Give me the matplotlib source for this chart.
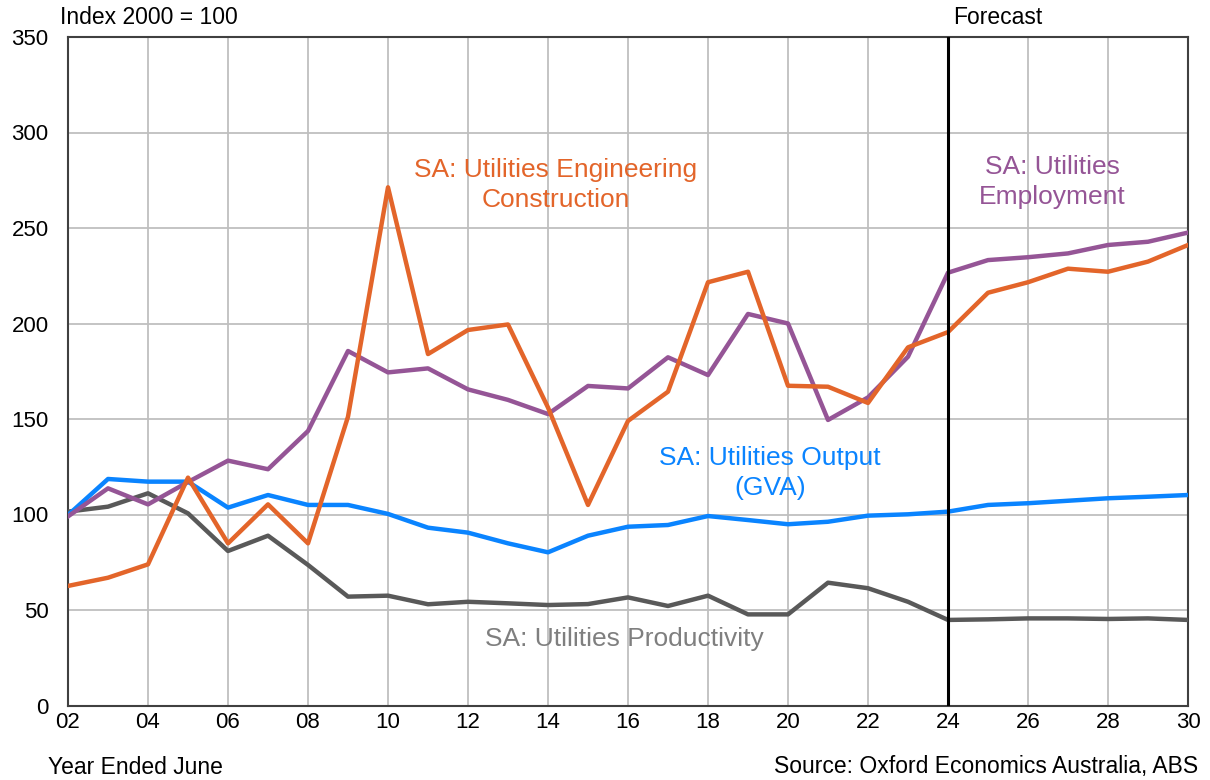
import matplotlib
matplotlib.use("Agg")
import matplotlib.pyplot as plt

plt.rcParams['font.family'] = ['Liberation Sans', 'DejaVu Sans']

years = list(range(2002, 2031))
eng_construction = [62.6, 66.9, 73.9, 119.3, 84.9, 105.3, 84.9, 151.2, 271.3, 184.0,
                    196.6, 199.5, 156.0, 105.0, 149.0, 164.3, 221.6, 227.1, 167.4, 166.9,
                    158.4, 187.5, 195.5, 216.1, 221.6, 228.7, 227.1, 232.4, 241.1]
employment = [99.0, 113.7, 105.3, 117.0, 128.2, 123.7, 143.7, 185.6, 174.4, 176.5,
              165.5, 160.0, 152.6, 167.3, 166.0, 182.3, 173.0, 205.0, 200.0, 149.5,
              161.3, 182.6, 226.6, 233.2, 234.7, 236.7, 241.1, 242.8, 247.6]
output_gva = [99.7, 118.6, 117.2, 117.2, 103.6, 110.2, 105.0, 105.0, 100.3, 93.1,
              90.5, 84.9, 80.2, 88.9, 93.6, 94.5, 99.2, 97.1, 94.9, 96.2,
              99.4, 100.1, 101.5, 105.0, 105.9, 107.2, 108.5, 109.3, 110.2]
productivity = [101.5, 104.1, 111.1, 100.6, 80.9, 88.9, 73.6, 57.0, 57.5, 53.0,
                54.3, 53.5, 52.6, 53.1, 56.6, 52.1, 57.5, 47.7, 47.7, 64.3,
                61.4, 54.3, 44.8, 45.1, 45.6, 45.6, 45.3, 45.6, 44.8]
xtick_years = list(range(2002, 2031, 2))
xtick_labels = [f"{y % 100:02d}" for y in xtick_years]
yticks = [0, 50, 100, 150, 200, 250, 300, 350]
forecast_year = 2024

c_orange = '#E3652A'
c_purple = '#955596'
c_blue = '#0A84FF'
c_gray = '#595959'

fig = plt.figure(figsize=(12.1, 7.8), dpi=100)
ax = fig.add_axes([68/1210, 1-705.5/780, (1188-68)/1210, (705.5-37)/780])

ax.plot(years, productivity, color=c_gray, lw=3.2, zorder=3)
ax.plot(years, output_gva, color=c_blue, lw=3.2, zorder=3)
ax.plot(years, employment, color=c_purple, lw=3.2, zorder=4)
ax.plot(years, eng_construction, color=c_orange, lw=3.2, zorder=5)

ax.axvline(forecast_year, color='black', lw=2.2, zorder=6)

ax.set_xlim(2002, 2030)
ax.set_ylim(0, 350)
ax.set_xticks(xtick_years)
ax.set_xticklabels(xtick_labels)
ax.set_yticks(yticks)
ax.grid(True, color='#BFBFBF', lw=1.3, zorder=0)
ax.set_axisbelow(True)
for s in ax.spines.values():
    s.set_color('#404040')
    s.set_linewidth(1.5)
ax.tick_params(axis='both', length=0, labelsize=16, colors='black')
ax.tick_params(axis='y', pad=14)
ax.tick_params(axis='x', pad=5)

small = 16.5
fig.text(60/1210, 1-18/780, "Index 2000 = 100", fontsize=small, ha='left', va='center')
fig.text(998/1210, 1-18/780, "Forecast", fontsize=small, ha='center', va='center')
fig.text(48/1210, 1-767/780, "Year Ended June", fontsize=small, ha='left', va='center')
fig.text(1198/1210, 1-767/780, "Source: Oxford Economics Australia, ABS", fontsize=small, ha='right', va='center')

big = 19
ls = 1.3
ax.text(2014.2, 272.5, "SA: Utilities Engineering\nConstruction", color=c_orange, fontsize=big,
        ha='center', va='center', linespacing=ls)
ax.text(2026.6, 274, "SA: Utilities\nEmployment", color=c_purple, fontsize=big,
        ha='center', va='center', linespacing=ls)
ax.text(2019.55, 121.8, "SA: Utilities Output\n(GVA)", color=c_blue, fontsize=big,
        ha='center', va='center', linespacing=ls)
ax.text(2015.9, 35, "SA: Utilities Productivity", color='#7F7F7F', fontsize=big,
        ha='center', va='center')

fig.savefig("out.png", dpi=100)
